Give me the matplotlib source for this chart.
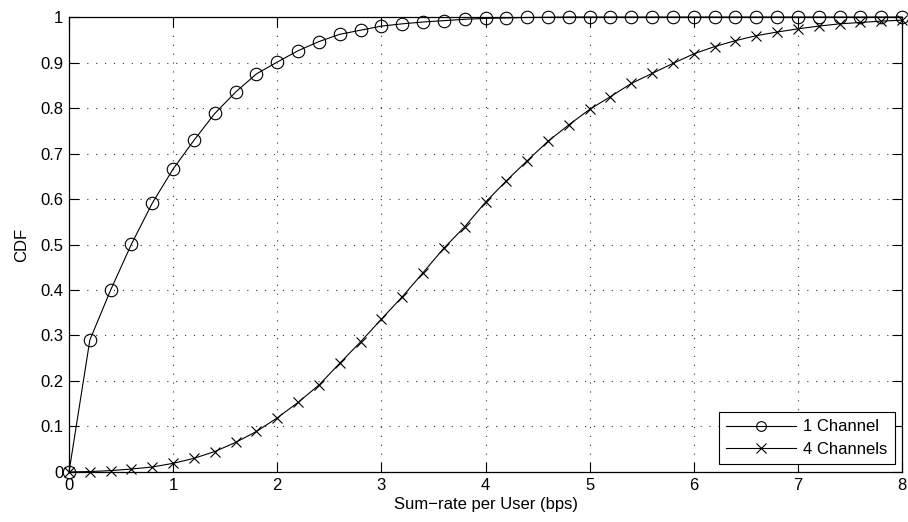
import numpy as np
import matplotlib.pyplot as plt

plt.rcParams['font.family'] = ['Liberation Sans', 'DejaVu Sans']

# rate values (bps) sampled every 0.2
rate = np.round(np.arange(0, 8.01, 0.2), 1)

cdf_1ch = [0.0, 0.29, 0.40, 0.501, 0.591, 0.666, 0.729, 0.788, 0.835, 0.875,
           0.901, 0.926, 0.946, 0.962, 0.971, 0.980, 0.985, 0.989, 0.992, 0.995,
           0.997, 0.998, 0.999, 0.9995, 1.0, 1.0, 1.0, 1.0, 1.0, 1.0,
           1.0, 1.0, 1.0, 1.0, 1.0, 1.0, 1.0, 1.0, 1.0, 1.0, 1.0]

cdf_4ch = [0.0, 0.001, 0.003, 0.0066, 0.011, 0.019, 0.030, 0.045, 0.065, 0.089,
           0.119, 0.153, 0.191, 0.239, 0.286, 0.336, 0.385, 0.438, 0.492, 0.539,
           0.593, 0.640, 0.684, 0.727, 0.763, 0.797, 0.825, 0.854, 0.876, 0.898,
           0.919, 0.935, 0.948, 0.959, 0.967, 0.974, 0.980, 0.985, 0.988, 0.991,
           0.993]

fig = plt.figure(figsize=(9.08, 5.22), dpi=100)
ax = fig.add_axes([0.076, 0.0958, 0.9174, 0.8716])

ax.plot(rate, cdf_1ch, color='black', lw=0.8, marker='o', ms=9,
        mfc='none', mec='black', mew=0.8, label='1 Channel', clip_on=False)
ax.plot(rate, cdf_4ch, color='black', lw=0.8, marker='x', ms=7,
        mec='black', mew=0.8, label='4 Channels', clip_on=False)

ax.set_xlim(0, 8)
ax.set_ylim(0, 1)
ax.set_xticks(range(0, 9))
ax.set_yticks(np.arange(0, 1.01, 0.1))
ax.set_yticklabels(['0', '0.1', '0.2', '0.3', '0.4', '0.5', '0.6', '0.7', '0.8', '0.9', '1'])
ax.tick_params(direction='in', top=True, right=True, labelsize=12, length=7, width=0.8, pad=4)
ax.grid(True, linestyle=(0, (1, 7)), color='#333333', lw=0.8)
for s in ax.spines.values():
    s.set_linewidth(0.9)

ax.set_xlabel('Sum\u2212rate per User (bps)', fontsize=12, labelpad=3)
ax.set_ylabel('CDF', fontsize=12, labelpad=8)

leg = ax.legend(loc='lower right', fontsize=12, fancybox=False, framealpha=1,
                edgecolor='black', handlelength=4.2, borderaxespad=0.45,
                borderpad=0.45, labelspacing=0.45, handletextpad=0.4)
leg.get_frame().set_linewidth(0.8)
for h in leg.legend_handles:
    h.set_markersize(7)

fig.savefig('out.png', dpi=100)
